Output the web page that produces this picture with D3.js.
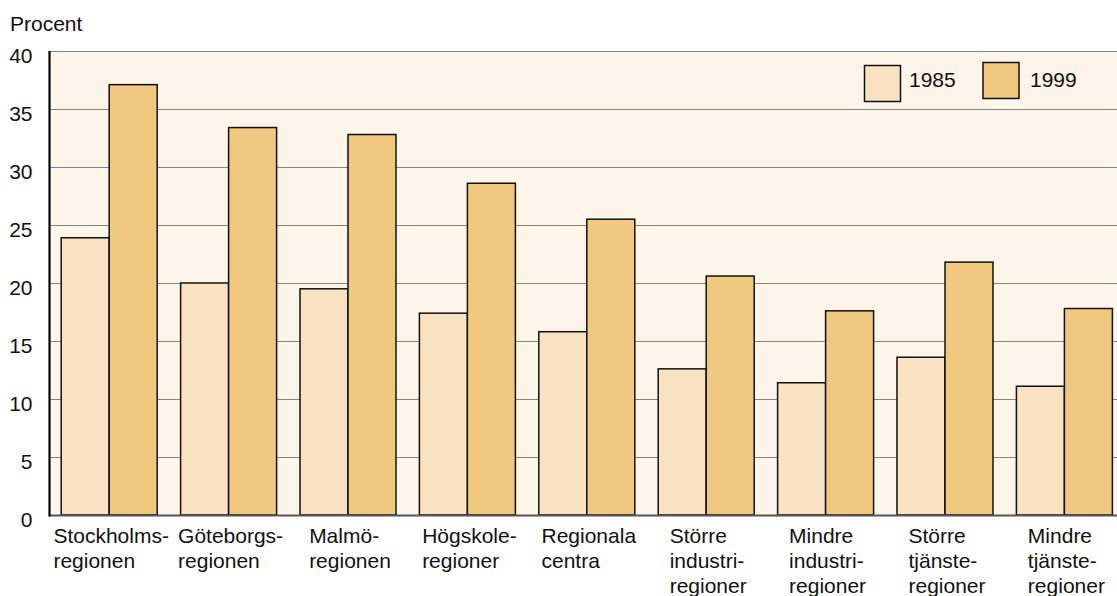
<!DOCTYPE html>
<html><head><meta charset="utf-8">
<script src="https://cdn.jsdelivr.net/npm/d3@7"></script>
<style>body{margin:0;background:#fff}svg{display:block;font-family:"Liberation Sans",Arial,sans-serif}</style>
</head><body><svg id="c" width="1117" height="596"></svg>
<script>
const categories = [
  ["Stockholms-","regionen"],
  ["Göteborgs-","regionen"],
  ["Malmö-","regionen"],
  ["Högskole-","regioner"],
  ["Regionala","centra"],
  ["Större","industri-","regioner"],
  ["Mindre","industri-","regioner"],
  ["Större","tjänste-","regioner"],
  ["Mindre","tjänste-","regioner"]
];
const seriesNames = ["1985","1999"];
const values1985 = [23.9, 20.0, 19.5, 17.4, 15.8, 12.6, 11.4, 13.6, 11.1];
const values1999 = [37.1, 33.4, 32.8, 28.6, 25.5, 20.6, 17.6, 21.8, 17.8];
const yTicks = [0,5,10,15,20,25,30,35,40];
const yLabel = "Procent";

(function(){
const colors = {"1985":"#f8e2c1","1999":"#f0c880"};
const svg = d3.select("#c");
const pl = 49.5, pr = 1117, pt = 51, pb = 515;
const fs = 21;

const keys = categories.map((c,i)=>i);
const x = d3.scaleBand().domain(keys).range([pl, pl + 9*119.4]).paddingInner(0.196).paddingOuter(0.098);
const xs = d3.scaleBand().domain(seriesNames).range([0, x.bandwidth()]);
const y = d3.scaleLinear().domain([0,40]).range([pb, pt]);

svg.append("rect").attr("x",pl).attr("y",pt).attr("width",pr-pl).attr("height",pb-pt).attr("fill","#fdf4ea");

svg.append("g").selectAll("line").data(yTicks.filter(t=>t>0)).join("line")
  .attr("x1",pl).attr("x2",pr)
  .attr("y1",d=>Math.round(y(d))+0.5).attr("y2",d=>Math.round(y(d))+0.5)
  .attr("stroke","#858585").attr("stroke-width",1.2);

svg.append("g").selectAll("text").data(yTicks).join("text")
  .attr("x",32.5).attr("y",d=>y(d)+11.5)
  .attr("text-anchor","end").attr("font-size",fs).attr("fill","#111")
  .text(d=>d);

svg.append("text").attr("x",10).attr("y",31).attr("font-size",fs).attr("fill","#111").text(yLabel);

const data = keys.map(i=>({i, v:{"1985":values1985[i],"1999":values1999[i]}}));
const g = svg.append("g").selectAll("g").data(data).join("g")
  .attr("transform",d=>`translate(${x(d.i)},0)`);
g.selectAll("rect").data(d=>seriesNames.map(s=>({s, v:d.v[s]}))).join("rect")
  .attr("x",d=>xs(d.s)).attr("width",xs.bandwidth())
  .attr("y",d=>y(d.v)).attr("height",d=>y(0)-y(d.v))
  .attr("fill",d=>colors[d.s]).attr("stroke","#111").attr("stroke-width",1.5);

svg.append("line").attr("x1",pl).attr("x2",pr).attr("y1",pb+0.5).attr("y2",pb+0.5)
  .attr("stroke","#555").attr("stroke-width",2);
svg.append("line").attr("x1",pl).attr("x2",pl).attr("y1",pt).attr("y2",pb+1.5)
  .attr("stroke","#000").attr("stroke-width",2.2);

const lg = svg.append("g");
categories.forEach((lines,i)=>{
  const t = lg.append("text").attr("font-size",fs).attr("fill","#111");
  lines.forEach((l,j)=>t.append("tspan").attr("y",543+25*j).text(l));
  let maxW = 0;
  t.selectAll("tspan").each(function(){maxW=Math.max(maxW,this.getComputedTextLength());});
  const cx = x(i) + x.bandwidth()/2 + 2;
  t.selectAll("tspan").attr("x",cx - maxW/2);
});

const legend = [{s:"1985",bx:864.5,by:65.5,tx:909},{s:"1999",bx:983,by:62.5,tx:1030}];
const lgg = svg.append("g").selectAll("g").data(legend).join("g");
lgg.append("rect").attr("x",d=>d.bx).attr("y",d=>d.by).attr("width",36).attr("height",36)
  .attr("fill",d=>colors[d.s]).attr("stroke","#111").attr("stroke-width",1.5);
lgg.append("text").attr("x",d=>d.tx).attr("y",87).attr("font-size",fs).attr("fill","#111").text(d=>d.s);
})();
</script></body></html>
